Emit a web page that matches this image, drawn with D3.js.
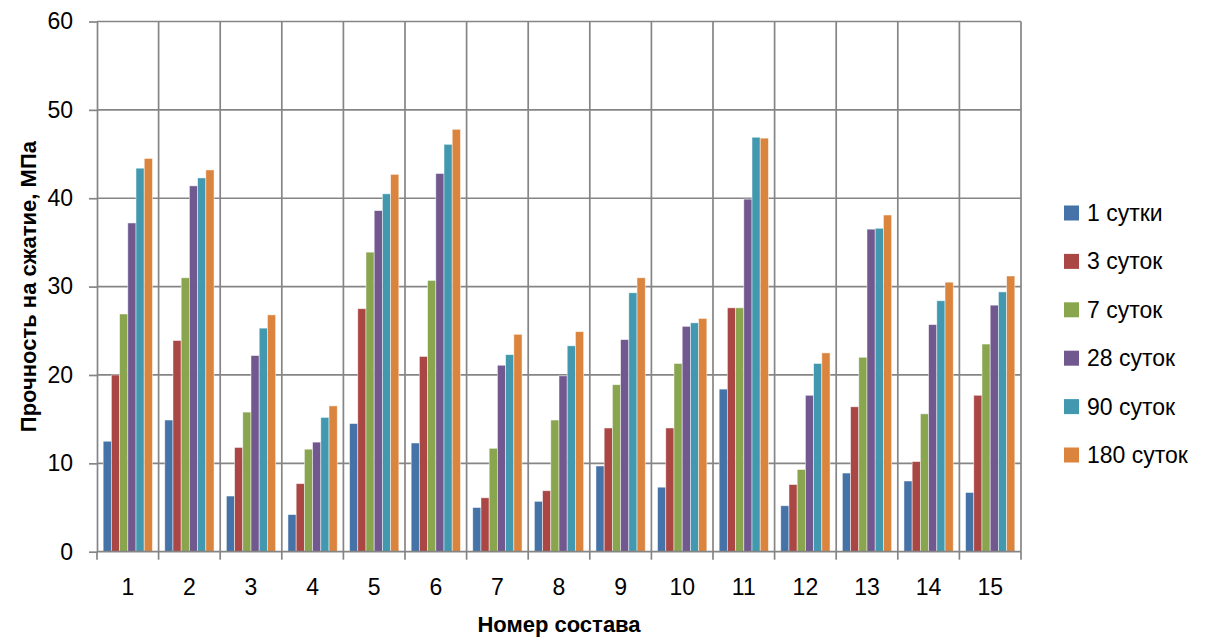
<!DOCTYPE html>
<html>
<head>
<meta charset="utf-8">
<script src="https://cdn.jsdelivr.net/npm/d3@7/dist/d3.min.js"></script>
<style>
  html, body { margin: 0; padding: 0; background: #fff; }
  svg { display: block; }
  text { font-family: "Liberation Sans", Arial, sans-serif; fill: #000; }
</style>
</head>
<body>
<svg id="chart" width="1205" height="639"></svg>
<script>
const categories = ["1","2","3","4","5","6","7","8","9","10","11","12","13","14","15"];
const seriesNames = ["1 сутки","3 суток","7 суток","28 суток","90 суток","180 суток"];
const s1 = [12.5, 14.9, 6.3, 4.2, 14.5, 12.3, 5.0, 5.7, 9.7, 7.3, 18.4, 5.2, 8.9, 8.0, 6.7];
const s3 = [20.0, 23.9, 11.8, 7.7, 27.5, 22.1, 6.1, 6.9, 14.0, 14.0, 27.6, 7.6, 16.4, 10.2, 17.7];
const s7 = [26.9, 31.0, 15.8, 11.6, 33.9, 30.7, 11.7, 14.9, 18.9, 21.3, 27.6, 9.3, 22.0, 15.6, 23.5];
const s28 = [37.2, 41.4, 22.2, 12.4, 38.6, 42.8, 21.1, 19.9, 24.0, 25.5, 39.9, 17.7, 36.5, 25.7, 27.9];
const s90 = [43.4, 42.3, 25.3, 15.2, 40.5, 46.1, 22.3, 23.3, 29.3, 25.9, 46.9, 21.3, 36.6, 28.4, 29.4];
const s180 = [44.5, 43.2, 26.8, 16.5, 42.7, 47.8, 24.6, 24.9, 31.0, 26.4, 46.8, 22.5, 38.1, 30.5, 31.2];
const yTicks = [0, 10, 20, 30, 40, 50, 60];
const colors = ["#4572A7", "#AA4643", "#89A54E", "#71588F", "#4198AF", "#DB843D"];
const yTitle = "Прочность на сжатие, МПа";
const xTitle = "Номер состава";

const series = [s1, s3, s7, s28, s90, s180];

const svg = d3.select("#chart");
const L = 97, R = 1021, T = 21.5, B = 551.7;
const gridColor = "#858585";

const x = d3.scaleBand().domain(categories).range([L, R]).paddingInner(0).paddingOuter(0);
// Excel gap width 150%: group occupies 6/(6+1.5) of the band
const gapFrac = 1.5 / (6 + 1.5);
const xs = d3.scaleBand().domain(d3.range(series.length))
  .range([x.bandwidth() * gapFrac / 2, x.bandwidth() * (1 - gapFrac / 2)])
  .paddingInner(0).paddingOuter(0);
const y = d3.scaleLinear().domain([0, 60]).range([B, T]);

// horizontal gridlines
svg.append("g").selectAll("line").data(yTicks.filter(d => d > 0)).join("line")
  .attr("x1", L).attr("x2", R).attr("y1", d => y(d)).attr("y2", d => y(d))
  .attr("stroke", gridColor).attr("stroke-width", 1.7);
// vertical gridlines at category boundaries
const bounds = categories.map(c => x(c)).concat([R]);
svg.append("g").selectAll("line").data(bounds.slice(1)).join("line")
  .attr("x1", d => d).attr("x2", d => d).attr("y1", T).attr("y2", B)
  .attr("stroke", gridColor).attr("stroke-width", 1.7);

// bars
const barG = svg.append("g");
series.forEach((vals, si) => {
  barG.append("g").selectAll("rect").data(vals).join("rect")
    .attr("x", (d, i) => x(categories[i]) + xs(si))
    .attr("width", xs.bandwidth())
    .attr("y", d => y(d))
    .attr("height", d => y(0) - y(d))
    .attr("fill", colors[si])
    .attr("stroke", "#ffffff").attr("stroke-opacity", 0.6).attr("stroke-width", 0.8);
});

// Y axis
const yAxis = d3.axisLeft(y).tickValues(yTicks).tickSize(8).tickPadding(16).tickSizeOuter(0);
const gy = svg.append("g").attr("transform", `translate(${L},0)`).call(yAxis);
gy.select(".domain").attr("stroke", gridColor).attr("stroke-width", 1.7);
gy.selectAll(".tick line").attr("stroke", gridColor).attr("stroke-width", 1.7);
gy.selectAll(".tick text").style("font-size", "23px").style("font-family", "Liberation Sans, Arial, sans-serif").attr("fill", "#000");

// X axis: ticks at boundaries
svg.append("line").attr("x1", L).attr("x2", R).attr("y1", B).attr("y2", B)
  .attr("stroke", gridColor).attr("stroke-width", 1.7);
svg.append("g").selectAll("line").data(bounds).join("line")
  .attr("x1", d => d).attr("x2", d => d).attr("y1", B).attr("y2", B + 8)
  .attr("stroke", gridColor).attr("stroke-width", 1.7);
svg.append("g").selectAll("text").data(categories).join("text")
  .attr("x", d => x(d) + x.bandwidth() / 2)
  .attr("y", 595)
  .attr("text-anchor", "middle")
  .style("font-size", "23px")
  .text(d => d);

// axis titles
svg.append("text")
  .attr("transform", `translate(36, ${(T + B) / 2}) rotate(-90)`)
  .attr("text-anchor", "middle")
  .style("font-size", "22px").style("font-weight", "bold")
  .text(yTitle);
svg.append("text")
  .attr("x", (L + R) / 2).attr("y", 632)
  .attr("text-anchor", "middle")
  .style("font-size", "22px").style("font-weight", "bold")
  .text(xTitle);

// legend
const leg = svg.append("g");
const legY = d3.scalePoint().domain(seriesNames).range([213, 455]);
seriesNames.forEach((n, i) => {
  leg.append("rect").attr("x", 1064).attr("y", legY(n) - 7.5).attr("width", 15).attr("height", 15)
    .attr("fill", colors[i]);
  leg.append("text").attr("x", 1087).attr("y", legY(n)).attr("dy", "0.35em")
    .style("font-size", "23px").text(n);
});
</script>
</body>
</html>
